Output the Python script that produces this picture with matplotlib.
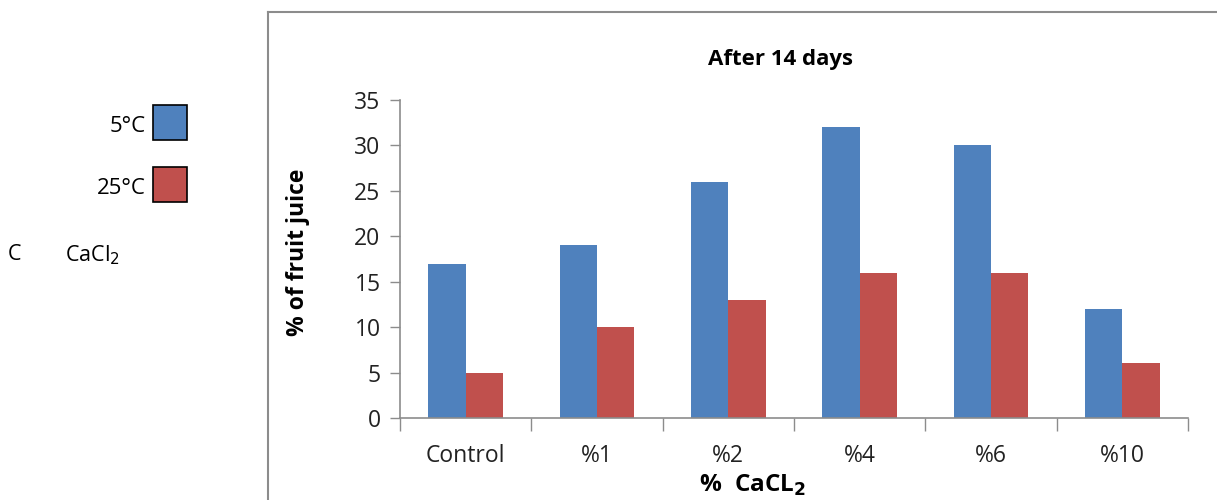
import matplotlib.pyplot as plt
from matplotlib.patches import Rectangle
from matplotlib.lines import Line2D
import numpy as np

categories = ["Control", "%1", "%2", "%4", "%6", "%10"]
series_names = ["5°C", "25°C"]
juice_5c = [17, 19, 26, 32, 30, 12]
juice_25c = [5, 10, 13, 16, 16, 6]
colors = ["#4F81BD", "#C0504D"]

plt.rcParams["font.family"] = ["Open Sans", "DejaVu Sans"]

W, H = 1217, 500
fig = plt.figure(figsize=(W / 100, H / 100), dpi=100)


def fx(px):
    return px / W


def fy(py):
    return 1 - py / H


# outer chart frame (left and top edge only)
fig.add_artist(Line2D([fx(268), fx(268)], [fy(12), 0], color="#8c8c8c", lw=1.5))
fig.add_artist(Line2D([fx(268), 1], [fy(12), fy(12)], color="#8c8c8c", lw=1.5))

ax = fig.add_axes([fx(400), fy(418), fx(1188) - fx(400), fy(100) - fy(418)])

x = np.arange(len(categories))
bw = 0.285
ax.bar(x - bw / 2, juice_5c, bw, color=colors[0])
ax.bar(x + bw / 2, juice_25c, bw, color=colors[1])

ax.set_xlim(-0.5, len(categories) - 0.5)
ax.set_ylim(0, 35)
ax.set_yticks(range(0, 36, 5))
ax.set_xticks(x)
ax.set_xticklabels(categories)
ax.set_xticks(np.arange(-0.5, len(categories), 1), minor=True)
ax.tick_params(axis="x", which="major", length=0, pad=19, labelsize=16.5, colors="#222222")
ax.tick_params(axis="x", which="minor", length=9, width=1, color="#8c8c8c", direction="out")
ax.tick_params(axis="y", length=7, width=1, color="#8c8c8c", labelsize=16.5, pad=7,
               labelcolor="#222222")

for side in ["top", "right"]:
    ax.spines[side].set_visible(False)
for side in ["left", "bottom"]:
    ax.spines[side].set_color("#8c8c8c")
    ax.spines[side].set_linewidth(1.2)

fig.text(fx(298), fy(252), "% of fruit juice", rotation=90, ha="center", va="center",
         fontsize=16.5, fontweight="bold")
fig.text(fx(780), fy(60), "After 14 days", ha="center", va="center",
         fontsize=16, fontweight="bold")
fig.text(fx(728), fy(485), "% ", ha="right", va="center", fontsize=17.5, fontweight="bold")
fig.text(fx(728), fy(485), " CaCL$_\\mathbf{2}$", ha="left", va="center",
         fontsize=17.5, fontweight="bold")

# legend block on the left
leg_y = [122, 184]
for name, col, yc in zip(series_names, colors, leg_y):
    fig.text(fx(146), fy(yc + 4), name, ha="right", va="center", fontsize=16)
    fig.add_artist(Rectangle((fx(153), fy(yc + 18)), fx(34), fy(0) - fy(35),
                             facecolor=col, edgecolor="black", lw=1.2))

fig.text(fx(8), fy(255), "C", ha="left", va="center", fontsize=15.5)
fig.text(fx(65), fy(255), "CaCl$_2$", ha="left", va="center", fontsize=15.5)

fig.savefig("out.png", dpi=100)
